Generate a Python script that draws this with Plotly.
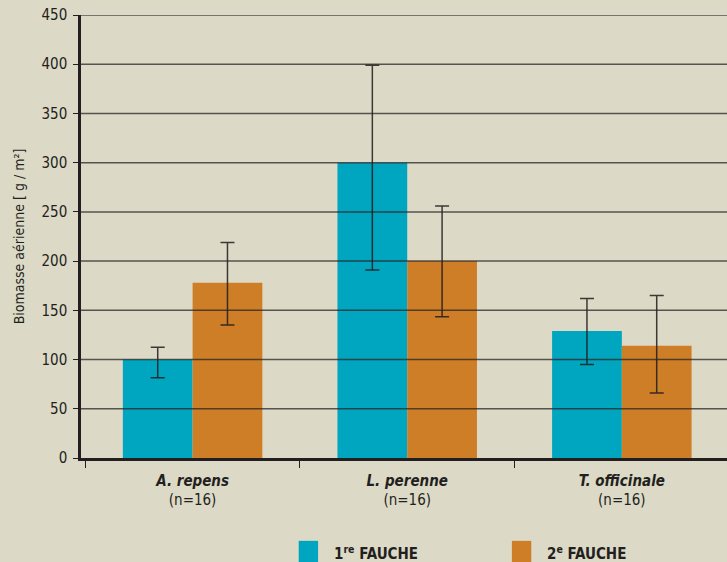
import plotly.graph_objects as go

# Species sampled (n = 16 plots each)
species = ["A. repens", "L. perenne", "T. officinale"]
sample_sizes = [16, 16, 16]

# Mean above-ground biomass (g/m²) per cut
cut1_mean = [100, 300, 129]
cut2_mean = [178, 200, 114]

# Upper and lower ends of the error bars
cut1_upper = [112.5, 399, 162]
cut1_lower = [81.5, 191, 95]
cut2_upper = [219, 256, 165]
cut2_lower = [135, 143.5, 66]

y_ticks = [0, 50, 100, 150, 200, 250, 300, 350, 400, 450]

BG = "#DCDAC6"
TEAL = "#00A5BF"
ORANGE = "#CE7E27"
INK = "#231F20"
FONT = "Liberation Sans Narrow, DejaVu Sans Condensed, Arial Narrow, sans-serif"

tick_text = [f"<b><i>{s}</i></b><br>(n={n})" for s, n in zip(species, sample_sizes)]


def err(means, upper, lower):
    return dict(
        type="data",
        symmetric=False,
        array=[u - m for u, m in zip(upper, means)],
        arrayminus=[m - l for m, l in zip(means, lower)],
        color="rgba(30,28,28,0.85)",
        thickness=1.5,
        width=7,
    )


fig = go.Figure()
fig.add_trace(go.Bar(
    x=species, y=cut1_mean, name="1re FAUCHE",
    marker=dict(color=TEAL, line=dict(width=0)),
    error_y=err(cut1_mean, cut1_upper, cut1_lower),
))
fig.add_trace(go.Bar(
    x=species, y=cut2_mean, name="2e FAUCHE",
    marker=dict(color=ORANGE, line=dict(width=0)),
    error_y=err(cut2_mean, cut2_upper, cut2_lower),
))

# Horizontal reference lines drawn over the bars
for v in y_ticks[1:]:
    fig.add_shape(type="line", xref="paper", yref="y", x0=0, x1=1, y0=v, y1=v,
                  line=dict(color="rgba(40,38,36,0.75)", width=1.5), layer="above")

# Legend drawn as swatches + labels below the chart
legend_items = [("1<sup>re</sup> FAUCHE", TEAL, 0.337), ("2<sup>e</sup> FAUCHE", ORANGE, 0.667)]
for label, color, xp in legend_items:
    fig.add_shape(type="rect", xref="paper", yref="paper",
                  x0=xp, x1=xp + 0.03, y0=-0.24, y1=-0.187, fillcolor=color,
                  line=dict(width=0), layer="above")
    fig.add_annotation(xref="paper", yref="paper", x=xp + 0.052, y=-0.187,
                       xanchor="left", yanchor="top", showarrow=False,
                       text=f"<b>{label}</b>",
                       font=dict(family=FONT, size=15, color=INK))

fig.update_layout(
    width=727, height=562,
    paper_bgcolor=BG, plot_bgcolor=BG,
    margin=dict(l=81, r=0, t=15, b=104),
    barmode="group", bargap=0.35, bargroupgap=0,
    showlegend=False,
    font=dict(family=FONT, color=INK, size=14),
    xaxis=dict(
        tickmode="array", tickvals=species, ticktext=tick_text,
        range=[-0.52, 2.49],
        tickson="boundaries", ticks="outside", ticklen=7, tickwidth=1, tickcolor=INK,
        ticklabelstandoff=7,
        showline=True, linecolor=INK, linewidth=2.5,
        showgrid=False, tickfont=dict(size=15, color=INK),
    ),
    yaxis=dict(
        range=[0, 450], tickvals=y_ticks,
        ticks="outside", ticklen=5, tickwidth=1, tickcolor=INK,
        ticklabelstandoff=3,
        showline=True, linecolor=INK, linewidth=2.5,
        showgrid=False, zeroline=False,
        tickfont=dict(size=15, color=INK),
        title=dict(text="Biomasse aérienne [ g / m²]", standoff=14,
                   font=dict(size=14, color=INK)),
    ),
)

fig.write_html("out.html")
